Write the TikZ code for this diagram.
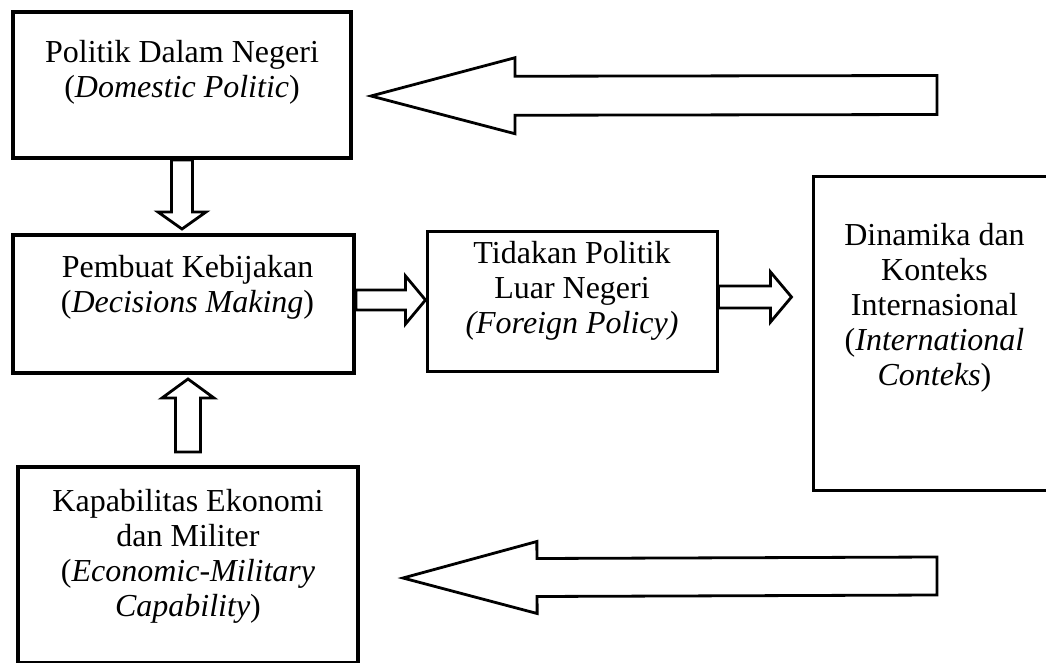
\documentclass[tikz,border=0pt]{standalone}
\usepackage{fontspec}
\setmainfont{Liberation Serif}
\usepackage{tikz}
\usetikzlibrary{calc,positioning}

% hollow block arrow: tail, tip, half shaft, half head, head length
\newcommand{\blokpanah}[5]{%
	\coordinate (hb) at ($(#2)!#5pt!(#1)$);
	\draw[panah] ($(#1)!#3pt!90:(#2)$) -- ($(hb)!#3pt!90:(#2)$) -- ($(hb)!#4pt!90:(#2)$) -- (#2)
		-- ($(hb)!#4pt!-90:(#2)$) -- ($(hb)!#3pt!-90:(#2)$) -- ($(#1)!#3pt!-90:(#2)$) -- cycle;
}

\begin{document}
\begin{tikzpicture}[x=1pt,y=-1pt,
		kotak/.style={draw,line width=4pt,inner sep=0pt},
		kotaktipis/.style={draw,line width=3pt,inner sep=0pt},
		teks/.style={align=center,inner sep=0pt,font=\fontsize{32}{35}\selectfont},
		panah/.style={line width=2.8pt,line join=miter}]
		\useasboundingbox (0,0) rectangle (1046,663);
		\clip (0,0) rectangle (1046,663);
		
		\node[kotak,minimum width=338pt,minimum height=146pt] (b1) at (182,85) {};
		\node[kotak,minimum width=341pt,minimum height=138pt] (b2) at (183.5,304) {};
		\node[kotak,minimum width=340pt,minimum height=196pt] (b3) at (188,565) {};
		\node[kotaktipis,minimum width=290pt,minimum height=140pt] (b4) at (572,301) {};
		\node[kotaktipis,minimum width=243pt,minimum height=313pt] (b5) at (934.5,333.5) {};
		
		\node[teks,below=30pt of b1.north] (t1) {Politik Dalam Negeri\\(\textit{Domestic Politic})};
		\node[teks,below=22pt of b2.north,xshift=4pt] (t2) {Pembuat Kebijakan\\(\textit{Decisions Making})};
		\node[teks,below=24pt of b3.north] (t3) {Kapabilitas Ekonomi\\dan Militer\\(\textit{Economic-Military}\\\textit{Capability})};
		\node[teks,below=12pt of b4.north] (t4) {Tidakan Politik\\Luar Negeri\\\textit{(Foreign Policy)}};
		\node[teks,below=48pt of b5.north] (t5) {Dinamika dan\\Konteks\\Internasional\\(\textit{International}\\\textit{Conteks})};
		
		%  arrow ends
		\coordinate (aEnd) at (937,95);
		\coordinate (aTip) at ($(b1.east)+(18,11)$);
		\coordinate (bTail) at (b1.south);
		\coordinate (bTip) at ($(b2.north -| b1.south)+(0,-4)$);
		\coordinate (cTail) at ($(b3.north)+(0,-13)$);
		\coordinate (cTip) at ($(b2.south -| b3.north)+(0,4)$);
		\coordinate (dTail) at ($(b2.east)+(0,-4)$);
		\coordinate (dTip) at (b4.west |- dTail);
		\coordinate (eTail) at ($(b4.east)+(0,-4)$);
		\coordinate (eTip) at ($(b5.west |- eTail)+(-20,0)$);
		\coordinate (fEnd) at (937,576);
		\coordinate (fTip) at ($(b3.east |- fEnd)+(43,2)$);
		
		\foreach \u/\v/\s/\h/\l in {aEnd/aTip/19.5/38/144, bTail/bTip/10.5/24/17,
			cTail/cTip/12.5/26/19, dTail/dTip/10/24/20, eTail/eTip/11/25/21, fEnd/fTip/19/36/134}
		{\blokpanah{\u}{\v}{\s}{\h}{\l}}
\end{tikzpicture}
\end{document}
